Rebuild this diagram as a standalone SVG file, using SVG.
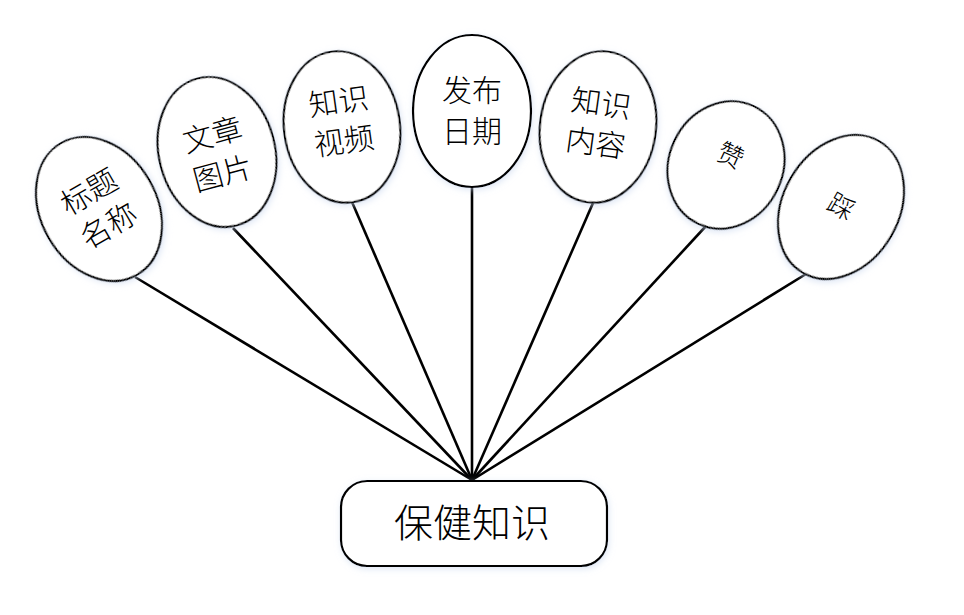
<svg xmlns="http://www.w3.org/2000/svg" width="964" height="615" viewBox="0 0 964 615">
<defs>
<filter id="sh" x="-20%" y="-20%" width="140%" height="140%">
<feGaussianBlur in="SourceAlpha" stdDeviation="3"/>
<feOffset dx="1" dy="2" result="b"/>
<feFlood flood-color="#c8d6ee" flood-opacity="0.6"/>
<feComposite in2="b" operator="in"/>
<feMerge><feMergeNode/><feMergeNode in="SourceGraphic"/></feMerge>
</filter>
</defs>
<style>
.e{fill:#fff;stroke:#000;stroke-width:2.2;filter:url(#sh)}
.c{stroke:#000;stroke-width:2.6;fill:none}
.t{font-family:"Noto Sans CJK SC","Noto Sans CJK JP",sans-serif;font-weight:300;font-size:30px;fill:#000;text-anchor:middle}
.s{font-size:26px}
</style>
<rect width="964" height="615" fill="#fff"/>
<g id="connectors">
<line class="c" x1="135" y1="277" x2="472" y2="480"/>
<line class="c" x1="233" y1="228" x2="472" y2="480"/>
<line class="c" x1="352" y1="202" x2="472" y2="480"/>
<line class="c" x1="472" y1="187" x2="472" y2="480"/>
<line class="c" x1="593" y1="203" x2="472" y2="480"/>
<line class="c" x1="706" y1="226" x2="472" y2="480"/>
<line class="c" x1="806" y1="274" x2="472" y2="480"/>
</g>
<g id="n1" transform="translate(99,209) rotate(-30)">
<ellipse class="e" rx="58" ry="76"/>
<text class="t" x="0" y="-9">标题</text>
<text class="t" x="0" y="30">名称</text>
</g>
<g id="n2" transform="translate(217,152) rotate(-15)">
<ellipse class="e" rx="58" ry="76"/>
<text class="t" x="0" y="-7">文章</text>
<text class="t" x="0" y="33">图片</text>
</g>
<g id="n3" transform="translate(342,127) rotate(-8)">
<ellipse class="e" rx="58" ry="76"/>
<text class="t" x="0" y="-15">知识</text>
<text class="t" x="0" y="25">视频</text>
</g>
<g id="n4" transform="translate(472,111)">
<ellipse class="e" rx="59" ry="76"/>
<text class="t" x="0" y="-10">发布</text>
<text class="t" x="0" y="31">日期</text>
</g>
<g id="n5" transform="translate(598,127) rotate(8)">
<ellipse class="e" rx="58" ry="76"/>
<text class="t" x="0" y="-13">知识</text>
<text class="t" x="0" y="27">内容</text>
</g>
<g id="n6" transform="translate(726,165) rotate(25)">
<ellipse class="e" rx="57" ry="65"/>
<text class="t s" x="0" y="-1">赞</text>
</g>
<g id="n7" transform="translate(841,207) rotate(30)">
<ellipse class="e" rx="58" ry="76"/>
<text class="t s" x="0" y="9">踩</text>
</g>
<g id="root">
<rect class="e" x="341" y="481" width="266" height="85" rx="26"/>
<text class="t" x="472" y="537" style="font-size:39px">保健知识</text>
</g>
</svg>
